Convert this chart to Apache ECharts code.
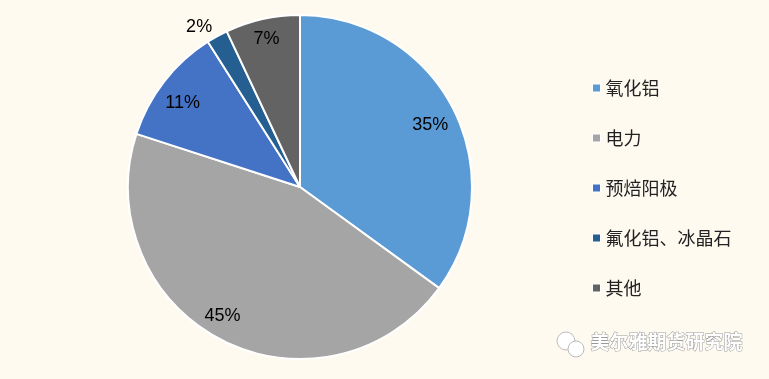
<!DOCTYPE html>
<html><head><meta charset="utf-8">
<script src="https://cdn.jsdelivr.net/npm/echarts@6/dist/echarts.min.js"></script>
<style>html,body{margin:0;padding:0;background:#fffaf0}#c{width:769px;height:379px}</style>
</head><body><div id="c"></div>
<script>
const categories = ['氧化铝', '电力', '预焙阳极', '氟化铝、冰晶石', '其他'];
const values = [35, 45, 11, 2, 7];
const colors = ['#5b9bd5', '#a5a5a5', '#4472c4', '#255e91', '#636363'];
const labelOffsets = [[51, -22], [-37, 50], [-47, -29], [-58, -82], [-14, -61]];

const chart = echarts.init(document.getElementById('c'));
chart.setOption({
  backgroundColor: '#fffaf0',
  animation: false,
  legend: {
    orient: 'vertical',
    left: 592,
    top: 77,
    padding: 0,
    itemGap: 28,
    itemWidth: 8,
    itemHeight: 8,
    icon: 'rect',
    itemStyle: { borderColor: '#ffffff', borderWidth: 1 },
    data: categories,
    textStyle: { fontFamily: 'Noto Sans CJK SC', fontSize: 18, color: '#222', lineHeight: 22 }
  },
  graphic: [{
    type: 'circle', shape: { cx: 566, cy: 341, r: 9 }, style: { fill: '#fff', stroke: '#bbb', lineWidth: 1 }
  }, {
    type: 'circle', shape: { cx: 576, cy: 349, r: 8 }, style: { fill: '#fff', stroke: '#bbb', lineWidth: 1 }
  }, {
    type: 'text', left: 590, top: 332,
    style: { text: '美尔雅期货研究院', fontFamily: 'Noto Sans CJK SC', fontSize: 19, fontWeight: 'bold',
      fill: '#ffffff', stroke: '#9a9a9a', lineWidth: 1 }
  }],
  series: [{
    type: 'pie',
    center: [300, 187],
    radius: [0, 172],
    startAngle: 90,
    clockwise: true,
    itemStyle: { borderColor: '#ffffff', borderWidth: 2 },
    labelLine: { show: false },
    data: categories.map((n, i) => ({
      name: n, value: values[i],
      itemStyle: { color: colors[i] },
      label: { offset: labelOffsets[i] }
    })),
    label: {
      show: true, position: 'inside',
      formatter: p => p.value + '%',
      fontFamily: 'Liberation Sans', fontSize: 18, color: '#000'
    },
    emphasis: { disabled: true }
  }]
});
</script></body></html>
